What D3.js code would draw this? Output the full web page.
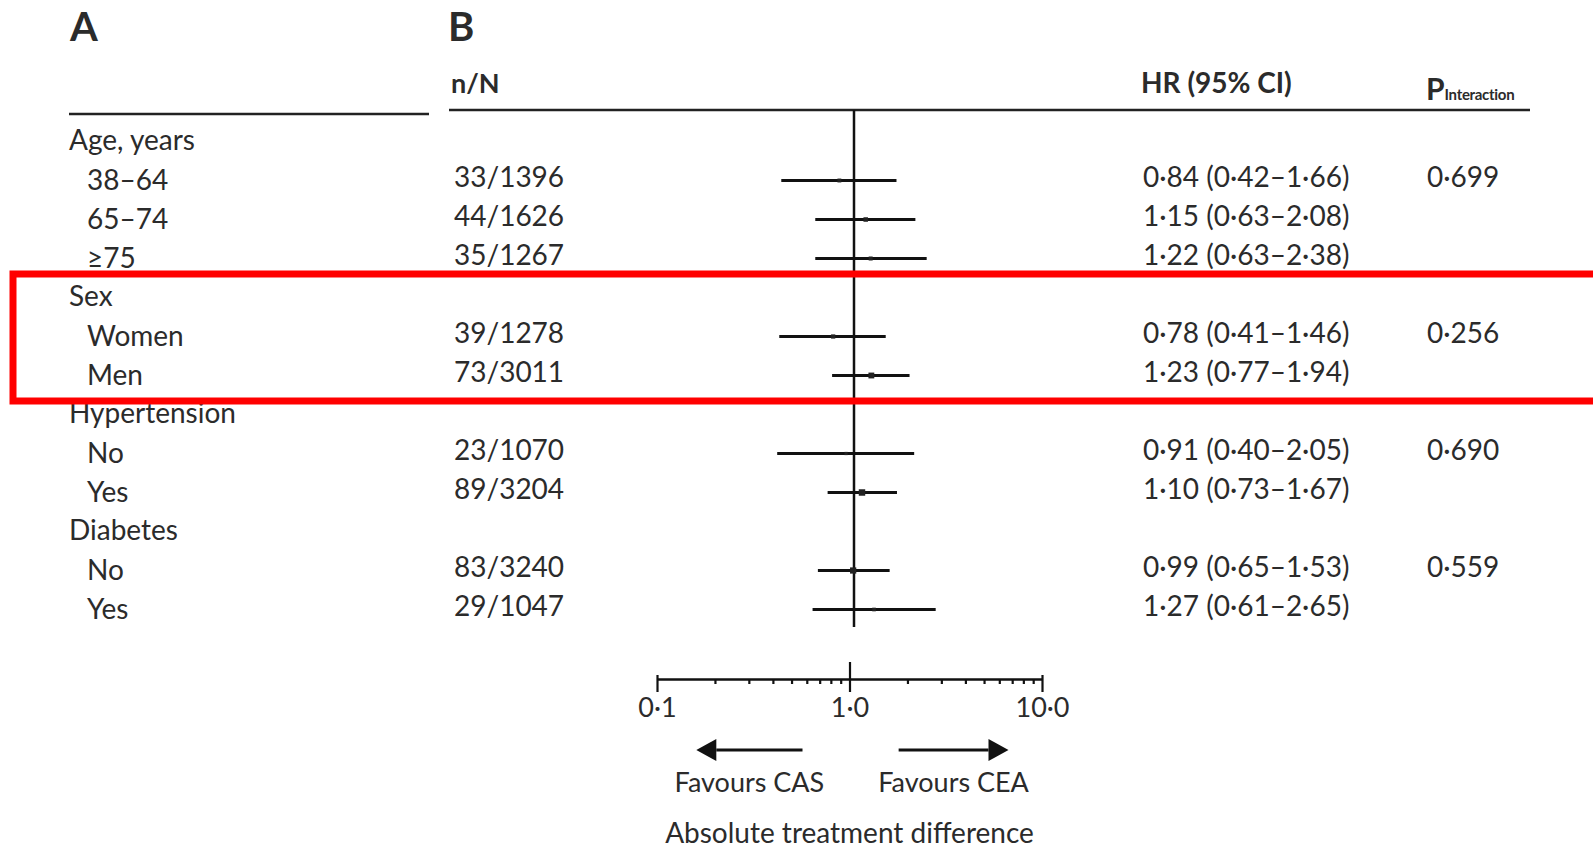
<!DOCTYPE html>
<html>
<head>
<meta charset="utf-8">
<script src="https://cdn.jsdelivr.net/npm/d3@7"></script>
<style>
  body { margin: 0; background: #fff; }
  svg { display: block; }
  text { font-family: Lato, "Open Sans", sans-serif; fill: #2b2b2b; }
</style>
</head>
<body>
<svg id="chart"></svg>
<script>
// rows of the table, top to bottom
const rowLabels = ["Age, years", "38–64", "65–74", "≥75", "Sex", "Women", "Men",
    "Hypertension", "No", "Yes", "Diabetes", "No", "Yes"];
const headerRows = [true, false, false, false, true, false, false, true, false, false, true, false, false];
const events = ["", "33/1396", "44/1626", "35/1267", "", "39/1278", "73/3011",
    "", "23/1070", "89/3204", "", "83/3240", "29/1047"];
const hr = [null, 0.84, 1.15, 1.22, null, 0.78, 1.23, null, 0.91, 1.10, null, 0.99, 1.27];
const ciLow = [null, 0.42, 0.63, 0.63, null, 0.41, 0.77, null, 0.40, 0.73, null, 0.65, 0.61];
const ciHigh = [null, 1.66, 2.08, 2.38, null, 1.46, 1.94, null, 2.05, 1.67, null, 1.53, 2.65];
const pInteraction = ["", "0·699", "", "", "", "0·256", "", "", "0·690", "", "", "0·559", ""];
const majorTicks = [0.1, 1, 10];
const majorTickLabels = ["0·1", "1·0", "10·0"];
const minorTicks = [0.2, 0.3, 0.4, 0.5, 0.6, 0.7, 0.8, 0.9, 2, 3, 4, 5, 6, 7, 8, 9];
const arrowCAS = [0.57, 0.16];
const arrowCEA = [1.8, 6.7];

const W = 1593, H = 851;
const svg = d3.select("#chart").attr("width", W).attr("height", H);

const fmt = v => d3.format(".2f")(v).replace(".", "·");
const hrText = hr.map((v, i) => v == null ? "" : `${fmt(v)} (${fmt(ciLow[i])}–${fmt(ciHigh[i])})`);

const y = d3.scalePoint().domain(d3.range(rowLabels.length)).range([140, 608]);
const x = d3.scaleLog().domain([0.1, 10]).range([661, 1047]);
const xAxisScale = d3.scaleLog().domain([0.1, 10]).range([657, 1042]);
const nEvents = events.map(e => e ? +e.split("/")[0] : 0);
const markSize = d3.scaleSqrt().domain([20, 90]).range([3, 6.5]);

// panel letters and headers
svg.append("text").attr("x", 70).attr("y", 41).style("font-size", "40px").style("font-weight", 700).text("A");
svg.append("text").attr("x", 448).attr("y", 41).style("font-size", "40px").style("font-weight", 700).text("B");
svg.append("text").attr("x", 451).attr("y", 93).style("font-size", "27px").style("font-weight", 700).text("n/N");
svg.append("text").attr("x", 1141).attr("y", 93).style("font-size", "28px").style("font-weight", 700).text("HR (95% CI)");
const pHead = svg.append("text").attr("x", 1426).attr("y", 100).style("font-weight", 700);
pHead.append("tspan").style("font-size", "30px").text("P");
pHead.append("tspan").style("font-size", "15px").style("letter-spacing", "-0.3px").text("Interaction");

svg.append("line").attr("x1", 69).attr("x2", 429).attr("y1", 114).attr("y2", 114)
    .attr("stroke", "#222").attr("stroke-width", 2.5);
svg.append("line").attr("x1", 449).attr("x2", 1530).attr("y1", 110).attr("y2", 110)
    .attr("stroke", "#222").attr("stroke-width", 2.5);

// table text
const rows = svg.append("g").selectAll("g").data(rowLabels).join("g")
    .attr("transform", (d, i) => `translate(0,${y(i)})`);
rows.append("text")
    .attr("x", (d, i) => headerRows[i] ? 69 : 87)
    .attr("dy", (d, i) => headerRows[i] ? "0.35em" : "0.4em")
    .style("font-size", "28px")
    .text(d => d);
rows.append("text").attr("x", 454).attr("dy", "0.3em").style("font-size", "28px")
    .text((d, i) => events[i]);
rows.append("text").attr("x", 1143).attr("dy", "0.3em").style("font-size", "28px")
    .text((d, i) => hrText[i]);
rows.append("text").attr("x", 1427).attr("dy", "0.3em").style("font-size", "28px")
    .text((d, i) => pInteraction[i]);

// reference line at HR = 1
svg.append("line").attr("x1", x(1)).attr("x2", x(1)).attr("y1", 110).attr("y2", 627)
    .attr("stroke", "#111").attr("stroke-width", 2.5);

// confidence intervals and point estimates
const est = d3.range(rowLabels.length).filter(i => hr[i] != null);
svg.append("g").selectAll("line").data(est).join("line")
    .attr("x1", i => x(ciLow[i])).attr("x2", i => x(ciHigh[i]))
    .attr("y1", i => y(i) + 1.5).attr("y2", i => y(i) + 1.5)
    .attr("stroke", "#111").attr("stroke-width", 3);
svg.append("g").selectAll("rect").data(est).join("rect")
    .attr("x", i => x(hr[i]) - markSize(nEvents[i]) / 2)
    .attr("y", i => y(i) + 1.5 - markSize(nEvents[i]) / 2)
    .attr("width", i => markSize(nEvents[i]))
    .attr("height", i => markSize(nEvents[i]))
    .attr("fill", "#222");

// log axis
const axisY = 679;
const axis = svg.append("g").attr("transform", `translate(0,${axisY})`)
    .call(d3.axisBottom(xAxisScale)
        .tickValues(majorTicks.concat(minorTicks))
        .tickSizeInner(5).tickSizeOuter(0)
        .tickFormat(d => { const k = majorTicks.indexOf(d); return k >= 0 ? majorTickLabels[k] : ""; }));
axis.select(".domain").attr("stroke", "#111").attr("stroke-width", 2.5);
axis.selectAll(".tick line").attr("stroke", "#111").attr("stroke-width", 2.2)
    .attr("y1", d => d === 1 ? -17 : (majorTicks.includes(d) ? -4 : 0))
    .attr("y2", d => majorTicks.includes(d) ? 13 : 5);
axis.selectAll(".tick text")
    .attr("y", 38).attr("dy", 0)
    .attr("fill", "#1f2235")
    .style("font-family", "Lato, 'Open Sans', sans-serif")
    .style("font-size", "27px");

// direction arrows
function arrow(ends, label) {
    const [a, b] = ends.map(v => xAxisScale(v));
    const dir = Math.sign(b - a);
    const ay = 750, head = 20, half = 11;
    svg.append("line").attr("x1", a).attr("x2", b - dir * head).attr("y1", ay).attr("y2", ay)
        .attr("stroke", "#111").attr("stroke-width", 3);
    svg.append("path")
        .attr("d", `M${b},${ay} L${b - dir * head},${ay - half} L${b - dir * head},${ay + half} Z`)
        .attr("fill", "#111");
    svg.append("text").attr("x", (a + b) / 2).attr("y", 792).attr("text-anchor", "middle")
        .style("font-size", "27px").attr("fill", "#2a2436").text(label);
}
arrow(arrowCAS, "Favours CAS");
arrow(arrowCEA, "Favours CEA");

svg.append("text").attr("x", xAxisScale(1)).attr("y", 843).attr("text-anchor", "middle")
    .style("font-size", "28px").attr("fill", "#2a2436").text("Absolute treatment difference");

// highlight box around the Sex rows
svg.append("rect").attr("x", 13).attr("y", 274).attr("width", 1700).attr("height", 127)
    .attr("fill", "none").attr("stroke", "#ff0000").attr("stroke-width", 7);
</script>
</body>
</html>
